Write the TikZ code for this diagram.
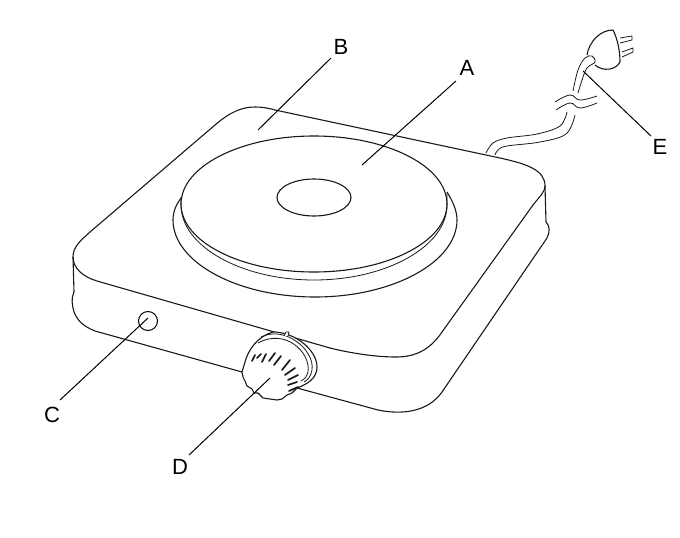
\documentclass[tikz,border=0pt]{standalone}
\usepackage{fontspec}
\setmainfont{Liberation Sans}
\usetikzlibrary{positioning,calc}
\tikzset{
    outline/.style={line width=1.1pt, black!90, line join=round},
    thinline/.style={line width=0.8pt, black!90},
    leader/.style={line width=1pt, black},
    rib/.style={line width=1.7pt, black!90, line cap=round},
    letter/.style={inner sep=0pt, font=\fontsize{22}{22}\selectfont, text=black}
}
\begin{document}
\begin{tikzpicture}[x=1pt,y=-1pt]
    \useasboundingbox (0,0) rectangle (680,538);
    % cord behind the housing
    \draw[thinline] plot[smooth,tension=0.6] coordinates {(567,112) (560,126) (537,134) (507,138) (493,143) (486,153)};
    \draw[thinline] plot[smooth,tension=0.6] coordinates {(575,115) (566,134) (540,142) (507,146) (498,150) (495,155)};
    \draw[thinline] plot[smooth,tension=0.7] coordinates {(555,102) (570,95) (580,100) (597,96)};
    \draw[thinline] plot[smooth,tension=0.7] coordinates {(556,110) (570,103) (580,108) (597,103)};
    \draw[thinline] plot[smooth,tension=0.6] coordinates {(573,91) (578,70) (585,58) (592,56) (595,62) (587,68) (582,80) (578,93)};
    % plug
    \draw[outline] (587,55) .. controls (589,42) and (600,30) .. (613,30)
        .. controls (618,40) and (620,52) .. (620,62)
        .. controls (616,70) and (603,72) .. (595,65);
    \draw[thinline] (620,38) -- (632,36) -- (632,40) -- (620,43);
    \draw[thinline] (622,52) -- (633,48) -- (633,52) -- (622,57);
    % housing top
    \draw[outline] (275,110) -- (500,158) .. controls (527,164) and (545,170) .. (545,186)
        .. controls (545,192) and (540,196) .. (533,205)
        -- (442,332) .. controls (430,350) and (415,357) .. (396,357)
        .. controls (375,357) and (350,353) .. (330,348)
        -- (97,281) .. controls (83,277) and (73,268) .. (73,257)
        .. controls (73,247) and (80,241) .. (90,232)
        -- (215,125) .. controls (230,112) and (242,107) .. (255,107)
        .. controls (262,107) and (268,108) .. (275,110) -- cycle;
    % housing side
    \draw[outline] (73,257) -- (74,292) .. controls (71,298) and (72,305) .. (74,312)
        .. controls (78,322) and (85,327) .. (95,331) -- (242,372);
    \draw[outline] (297,388) -- (378,410) .. controls (402,415) and (428,412) .. (442,392)
        -- (547,238) .. controls (550,232) and (550,226) .. (546,222) -- (545,186);
    % hot plate
    \draw[outline] (314,204) ellipse [x radius=133, y radius=68];
    \draw[outline] (314,197.5) ellipse [x radius=37, y radius=18.5];
    \draw[thinline] (181,197) -- (181,205) .. controls (181,246) and (241,280) .. (314,280)
        .. controls (387,280) and (447,246) .. (447,205) -- (447,193);
    \draw[outline] (182,197) .. controls (176,204) and (173,212) .. (173,220)
        .. controls (173,262) and (237,297) .. (315,297)
        .. controls (393,297) and (457,262) .. (457,220)
        .. controls (457,210) and (452,200) .. (447,192);
    % switch
    \node[draw, circle, line width=1pt, minimum size=19pt, inner sep=0pt] (lamp) at (148,321) {};
    % knob
    \draw[outline, fill=white] (245,362) .. controls (248,350) and (258,336) .. (273,332)
        .. controls (295,332) and (317,350) .. (317,367)
        .. controls (317,378) and (308,384) .. (297,388) -- (292,393) -- (287,395)
        -- (282,399) -- (277,400) -- (270,399) -- (263,398) -- (258,393) -- (254,393)
        -- (252,389) -- (247,386) -- (245,381) -- (243,377) -- (242,372) -- cycle;
    \draw[thinline] (261,337) .. controls (285,325) and (315,350) .. (312,370) .. controls (311,376) and (308,380) .. (304,382);
    \draw[thinline] (258,343) .. controls (285,328) and (311,352) .. (308,372) .. controls (307,376) and (305,379) .. (301,381);
    \draw[thinline, fill=white] (284,336) -- (286,332) -- (289,332) -- (288,336);
    \foreach \xa/\ya/\xb/\yb in {252/361/255/355, 257/358/261/354, 262/362/266/354, 269/361/275/353,
        274/365/281/356, 282/370/290/360, 285/375/295/368, 288/380/298/375, 288/385/297/382, 289/391/298/387}
        \draw[rib] (\xa,\ya) -- (\xb,\yb);
    % labels and leaders
    \node[letter] (labelA) at (467,68) {A};
    \node[letter] (labelB) at (341,47) {B};
    \node[letter] (labelC) at (52,415) {C};
    \node[letter] (labelD) at (180,467) {D};
    \node[letter] (labelE) at (660,147) {E};
    \coordinate (plate) at (362,165);
    \coordinate (rim) at (258,130);
    \coordinate (lampdot) at (148,318);
    \coordinate (knob) at (270,378);
    \coordinate (cord) at (583,71);
    \draw[leader] (labelA) ++(-11,13) -- (plate);
    \draw[leader] (labelB) ++(-10,11) -- (rim);
    \draw[leader] (labelC) ++(8,-15) -- (lampdot);
    \draw[leader] (labelD) ++(9,-12) -- (knob);
    \draw[leader] (labelE) ++(-9,-11) -- (cord);
\end{tikzpicture}
\end{document}
